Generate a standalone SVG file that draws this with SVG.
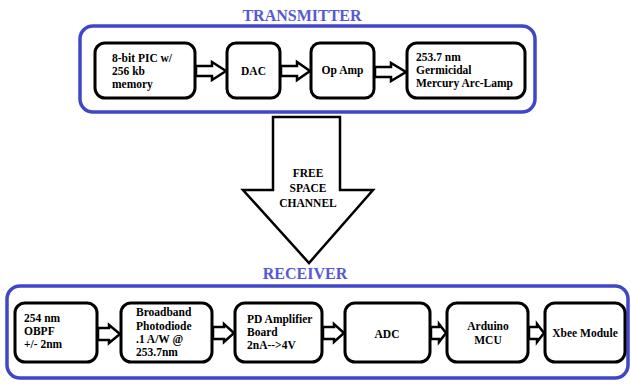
<svg xmlns="http://www.w3.org/2000/svg" width="631" height="384" viewBox="0 0 631 384">
<style>
.frame{fill:none;stroke:#4046c8;stroke-width:3.5}
.box{fill:#fff;stroke:#000;stroke-width:3}
.arr{fill:#fff;stroke:#000;stroke-width:2.5;stroke-linejoin:miter}
.title{font-family:"Liberation Serif",serif;font-weight:bold;font-size:16px;fill:#5559d8}
.t{font-family:"Liberation Serif",serif;font-weight:bold;font-size:11.5px;fill:#000}
.c{text-anchor:middle}
</style>
<rect width="631" height="384" fill="#fff"/>
<text class="title c" x="302" y="21">TRANSMITTER</text>
<rect class="frame" x="80" y="26" width="455" height="86" rx="13"/>
<text class="title c" x="305" y="279">RECEIVER</text>
<rect class="frame" x="7" y="286" width="621" height="92" rx="13"/>
<g id="connectors">
<path class="arr" d="M196,66 H212 V62 L226,71 L212,80 V76 H196 Z"/>
<path class="arr" d="M281,66 H297 V62 L310,71 L297,80 V76 H281 Z"/>
<path class="arr" d="M375,67 H391 V63 L406,72 L391,81 V77 H375 Z"/>
<path class="arr" d="M273,117 H340 V190 H373 L309,263 L243,190 H273 Z"/>
<path class="arr" d="M98,328 H109 V325 L120,334 L109,343 V340 H98 Z"/>
<path class="arr" d="M213,327 H224 V324 L234,333 L224,342 V339 H213 Z"/>
<path class="arr" d="M323,327 H334 V324 L344,333 L334,342 V339 H323 Z"/>
<path class="arr" d="M431,327 H439 V324 L446,333 L439,342 V339 H431 Z"/>
<path class="arr" d="M529,327 H537 V324 L544,333 L537,342 V339 H529 Z"/>
<text class="t c" x="308" y="177">FREE</text>
<text class="t c" x="308" y="192">SPACE</text>
<text class="t c" x="308" y="207">CHANNEL</text>
</g>
<g id="pic">
<rect class="box" x="95" y="43" width="100" height="55" rx="10"/>
<text class="t" x="112" y="62">8-bit PIC w/</text>
<text class="t" x="112" y="75">256 kb</text>
<text class="t" x="112" y="88">memory</text>
</g>
<g id="dac">
<rect class="box" x="227" y="43" width="53" height="55" rx="9"/>
<text class="t c" x="253.5" y="75">DAC</text>
</g>
<g id="opamp">
<rect class="box" x="311" y="43" width="63" height="55" rx="9"/>
<text class="t c" x="342.5" y="74">Op Amp</text>
</g>
<g id="lamp">
<rect class="box" x="407" y="43" width="118" height="55" rx="10"/>
<text class="t" x="416" y="61">253.7 nm</text>
<text class="t" x="416" y="74">Germicidal</text>
<text class="t" x="416" y="87">Mercury Arc-Lamp</text>
</g>
<g id="obpf">
<rect class="box" x="15" y="303" width="82" height="59" rx="10"/>
<text class="t" x="24" y="322">254 nm</text>
<text class="t" x="24" y="335">OBPF</text>
<text class="t" x="24" y="348">+/- 2nm</text>
</g>
<g id="photodiode">
<rect class="box" x="121" y="303" width="91" height="59" rx="10"/>
<text class="t" x="136" y="316">Broadband</text>
<text class="t" x="136" y="330">Photodiode</text>
<text class="t" x="136" y="343">.1 A/W @</text>
<text class="t" x="136" y="356">253.7nm</text>
</g>
<g id="pdamp">
<rect class="box" x="235" y="303" width="87" height="59" rx="10"/>
<text class="t" x="247" y="323">PD Amplifier</text>
<text class="t" x="247" y="336">Board</text>
<text class="t" x="247" y="349">2nA--&gt;4V</text>
</g>
<g id="adc">
<rect class="box" x="345" y="303" width="85" height="59" rx="10"/>
<text class="t c" x="387" y="338">ADC</text>
</g>
<g id="arduino">
<rect class="box" x="447" y="303" width="81" height="59" rx="10"/>
<text class="t c" x="488" y="330">Arduino</text>
<text class="t c" x="488" y="344">MCU</text>
</g>
<g id="xbee">
<rect class="box" x="545" y="303" width="80" height="59" rx="10"/>
<text class="t c" x="585" y="337">Xbee Module</text>
</g>
</svg>
